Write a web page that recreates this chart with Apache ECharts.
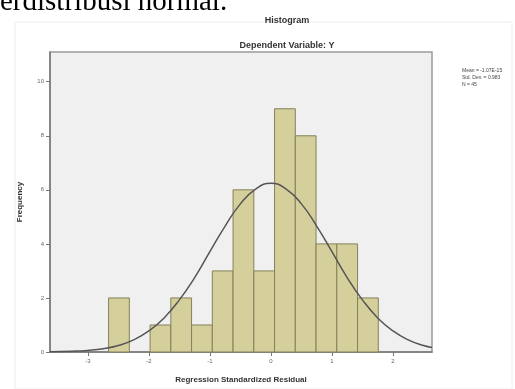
<!DOCTYPE html>
<html>
<head>
<meta charset="utf-8">
<script src="https://cdn.jsdelivr.net/npm/echarts@6/dist/echarts.min.js"></script>
<style>html,body{margin:0;padding:0;background:#fff}#c{width:515px;height:389px}</style>
</head>
<body>
<div id="c"></div>
<script>
// Histogram bins (lower edge, upper edge) and frequencies
var binLower = [-2.66, -2.32, -1.98, -1.64, -1.30, -0.96, -0.62, -0.28, 0.06, 0.40, 0.74, 1.08, 1.42];
var binUpper = [-2.32, -1.98, -1.64, -1.30, -0.96, -0.62, -0.28, 0.06, 0.40, 0.74, 1.08, 1.42, 1.76];
var counts   = [2, 0, 1, 2, 1, 3, 6, 3, 9, 8, 4, 4, 2];
// Normal curve
var curveX = [-3.62, -3.25, -3.0, -2.75, -2.5, -2.25, -2.0, -1.75, -1.5, -1.25, -1.0, -0.75, -0.5, -0.25, 0, 0.25, 0.5, 0.75, 1.0, 1.25, 1.5, 1.75, 2.0, 2.25, 2.5, 2.64];
var curveY = [0.01, 0.03, 0.06, 0.12, 0.24, 0.45, 0.78, 1.26, 1.93, 2.75, 3.71, 4.66, 5.48, 6.03, 6.24, 6.03, 5.48, 4.66, 3.71, 2.75, 1.93, 1.26, 0.78, 0.45, 0.24, 0.17];
var xTicks = [-3, -2, -1, 0, 1, 2];
var yTicks = [0, 2, 4, 6, 8, 10];
var statsLines = ['Mean = -1.07E-15', 'Std. Dev. = 0.983', 'N = 45'];

var barData = binLower.map(function (lo, i) { return [lo, binUpper[i], counts[i]]; });
var curveData = curveX.map(function (x, i) { return [x, curveY[i]]; });

var chart = echarts.init(document.getElementById('c'), null, { renderer: 'canvas' });
var boldFont = '"Liberation Sans", Arial, sans-serif';
chart.setOption({
  animation: false,
  backgroundColor: '#fff',
  title: [
    { text: 'Histogram', left: 282, top: 11, textAlign: 'center',
      textStyle: { fontSize: 9, fontWeight: 'bold', color: '#333', fontFamily: boldFont } },
    { text: 'Dependent Variable: Y', left: 282, top: 36, textAlign: 'center',
      textStyle: { fontSize: 9, fontWeight: 'bold', color: '#333', fontFamily: boldFont } }
  ],
  graphic: [
    { type: 'text', left: 0, top: -12,
      style: { text: 'erdistribusi normal.', font: '29px "Liberation Serif", serif', fill: '#000' } },
    { type: 'rect', shape: { x: 15, y: 22, width: 497, height: 367 },
      style: { fill: 'none', stroke: '#eeeeee', lineWidth: 1 }, z: -1 },
    { type: 'text', left: 462, top: 67,
      style: { text: statsLines.join('\n'), font: '5px "Liberation Sans", sans-serif', fill: '#444', lineHeight: 7 } }
  ],
  grid: { left: 50, top: 52, right: 83, bottom: 35, show: true, backgroundColor: '#f0f0f0',
          borderColor: '#9a9a9a', borderWidth: 1.5 },
  xAxis: {
    type: 'value', min: -3.62, max: 2.64,
    name: 'Regression Standardized Residual', nameLocation: 'middle', nameGap: 24,
    nameTextStyle: { fontSize: 8, fontWeight: 'bold', color: '#333', fontFamily: boldFont },
    axisLine: { onZero: false, lineStyle: { color: '#777', width: 1.5 } },
    axisTick: { customValues: xTicks, length: 4, lineStyle: { color: '#777' } },
    axisLabel: { customValues: xTicks, fontSize: 6, color: '#666', margin: 6 },
    splitLine: { show: false }
  },
  yAxis: {
    type: 'value', min: 0, max: 11.1,
    name: 'Frequency', nameLocation: 'middle', nameGap: 26,
    nameTextStyle: { fontSize: 8, fontWeight: 'bold', color: '#333', fontFamily: boldFont },
    axisLine: { show: true, onZero: false, lineStyle: { color: '#777', width: 1.5 } },
    axisTick: { show: true, customValues: yTicks, length: 4, lineStyle: { color: '#777' } },
    axisLabel: { customValues: yTicks, fontSize: 6, color: '#666', margin: 6 },
    splitLine: { show: false }
  },
  series: [
    {
      type: 'custom',
      data: barData,
      encode: { x: [0, 1], y: 2 },
      renderItem: function (params, api) {
        var h = api.value(2);
        if (!h) return null;
        var p0 = api.coord([api.value(0), 0]);
        var p1 = api.coord([api.value(1), h]);
        return {
          type: 'rect',
          shape: { x: p0[0], y: p1[1], width: p1[0] - p0[0], height: p0[1] - p1[1] },
          style: { fill: '#d4cf9b', stroke: '#85815a', lineWidth: 1 }
        };
      },
      z: 2
    },
    {
      type: 'line', data: curveData, smooth: true, showSymbol: false,
      lineStyle: { color: '#555', width: 1.5 }, z: 3
    }
  ]
});
</script>
</body>
</html>
